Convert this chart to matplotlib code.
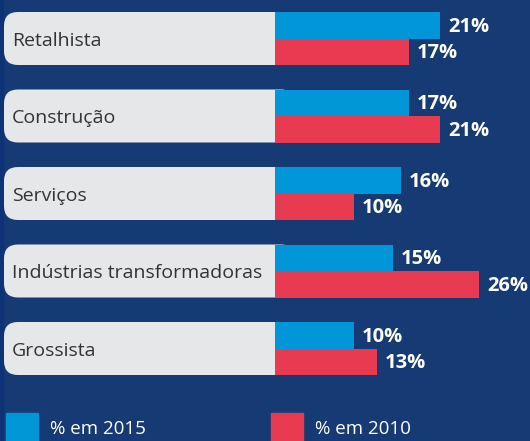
import matplotlib.pyplot as plt
from matplotlib.patches import FancyBboxPatch, Rectangle

# data
sectors = ['Retalhista', 'Construção', 'Serviços', 'Indústrias transformadoras', 'Grossista']
pct_2015 = [21, 17, 16, 15, 10]
pct_2010 = [17, 21, 10, 26, 13]
legend_labels = ['% em 2015', '% em 2010']

bg = '#163a73'
c_2015 = '#0096d8'
c_2010 = '#e83a50'
c_box = '#e6e7e9'

plt.rcParams['font.family'] = ['Open Sans', 'DejaVu Sans']

W, H = 530, 441
fig = plt.figure(figsize=(W / 100, H / 100), dpi=100, facecolor=bg)

# background layer in pixel units for the rounded label boxes
bgax = fig.add_axes([0, 0, 1, 1])
bgax.set_xlim(0, W)
bgax.set_ylim(H, 0)
bgax.axis('off')
bgax.add_patch(Rectangle((0, 0), 3, H, color='#0d3276'))

px_per_pct = 7.86
x0 = 275
row_px = 77.5
top_px = 38.5
bar_px = 26.5

for i in range(len(sectors)):
    cy = top_px + i * row_px
    bgax.add_patch(FancyBboxPatch((4, cy - bar_px), x0 + 20 - 4, 2 * bar_px,
                                  boxstyle='round,pad=0,rounding_size=14',
                                  facecolor=c_box, edgecolor='none'))

ax = fig.add_axes([0, 0, 1, 1])
ax.set_xlim(-x0 / px_per_pct, (W - x0) / px_per_pct)
ax.set_ylim((H - top_px) / row_px, -top_px / row_px)
ax.axis('off')
ax.patch.set_alpha(0)

bh = bar_px / row_px
xl = -x0 / px_per_pct
for i, name in enumerate(sectors):
    ax.text(xl + 12 / px_per_pct, i + 0.03, name, ha='left', va='center',
            fontsize=14, color='#333333', zorder=3)

ax.barh([i - bh / 2 for i in range(len(sectors))], pct_2015, height=bh, left=0,
        color=c_2015, zorder=2)
ax.barh([i + bh / 2 for i in range(len(sectors))], pct_2010, height=bh, left=0,
        color=c_2010, zorder=2)

for i in range(len(sectors)):
    ax.text(pct_2015[i] + 1.0, i - bh / 2 + 0.02, f'{pct_2015[i]}%', ha='left', va='center',
            fontsize=14.5, fontweight='bold', color='white', zorder=3)
    ax.text(pct_2010[i] + 1.0, i + bh / 2 + 0.02, f'{pct_2010[i]}%', ha='left', va='center',
            fontsize=14.5, fontweight='bold', color='white', zorder=3)

# legend
for lx, lab, col in [(6, legend_labels[0], c_2015), (271, legend_labels[1], c_2010)]:
    ax.add_patch(Rectangle(((lx - x0) / px_per_pct, (413 - top_px) / row_px), 32 / px_per_pct,
                           40 / row_px, color=col, zorder=2))
    ax.text((lx + 44 - x0) / px_per_pct, (429 - top_px) / row_px, lab, ha='left', va='center',
            fontsize=13.5, color='white', zorder=3)

fig.savefig('out.png', dpi=100, facecolor=bg)
